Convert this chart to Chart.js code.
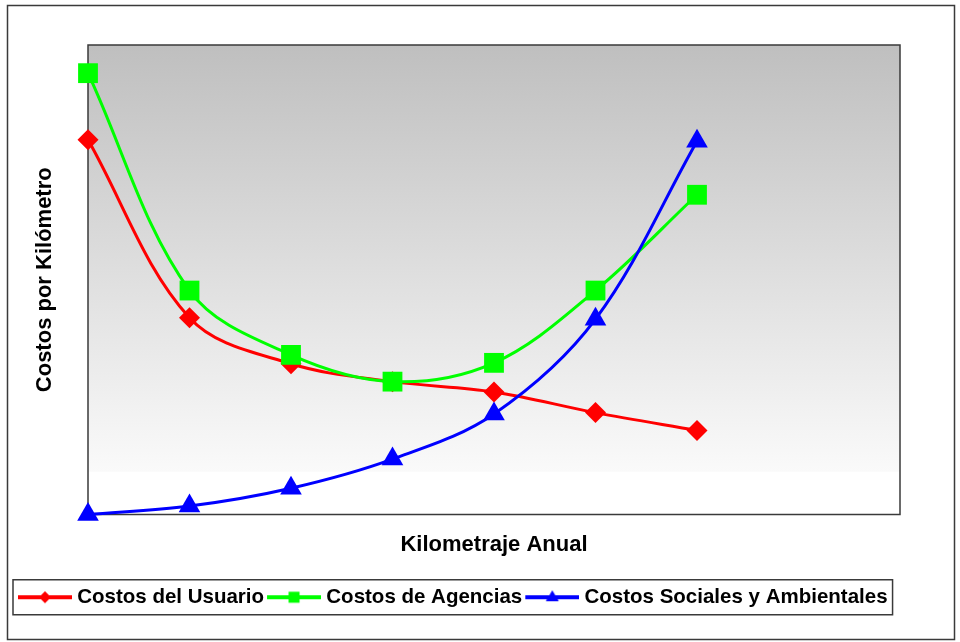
<!DOCTYPE html>
<html>
<head>
<meta charset="utf-8">
<script src="https://cdn.jsdelivr.net/npm/chart.js@4/dist/chart.umd.min.js"></script>
<style>
  html, body { margin: 0; padding: 0; background: #fff; }
  #wrap { width: 960px; height: 642px; position: relative; }
</style>
</head>
<body>
<div id="wrap"><canvas id="chart"></canvas></div>
<script>
// x positions (no tick labels shown in the original)
const kmLabels = ['1', '2', '3', '4', '5', '6', '7', '8', '9'];

// values, y scale 0..100
const usuario = [79.8, 41.9, 32.1, 28.3, 26.1, 21.7, 17.9];
const agencias = [94.0, 47.7, 34.0, 28.3, 32.3, 47.7, 68.1];
const sociales = [0, 1.8, 5.6, 11.8, 21.4, 41.6, 79.5];

const seriesNames = ['Costos del Usuario', 'Costos de Agencias', 'Costos Sociales y Ambientales'];
const seriesColors = ['#ff0000', '#00ff00', '#0000ff'];
const seriesStyles = ['rectRot', 'rect', 'triangle'];

// little line + marker picture for the legend
function legendSample(color, style) {
  const c = document.createElement('canvas');
  c.width = 60;
  c.height = 20;
  const g = c.getContext('2d');
  g.strokeStyle = color;
  g.fillStyle = color;
  g.lineWidth = 4;
  g.beginPath();
  g.moveTo(6, 10);
  g.lineTo(60, 10);
  g.stroke();
  const cx = 33, cy = 10;
  g.beginPath();
  if (style === 'rectRot') {
    g.moveTo(cx, cy - 6); g.lineTo(cx + 6, cy); g.lineTo(cx, cy + 6); g.lineTo(cx - 6, cy);
  } else if (style === 'rect') {
    g.rect(cx - 5.5, cy - 5.5, 11, 11);
  } else {
    g.moveTo(cx, cy - 7); g.lineTo(cx + 6.5, cy + 4); g.lineTo(cx - 6.5, cy + 4);
  }
  g.closePath();
  g.fill();
  return c;
}

const samples = seriesColors.map((c, i) => legendSample(c, seriesStyles[i]));

const frames = {
  id: 'frames',
  beforeDraw(chart) {
    const {ctx, chartArea: a} = chart;
    ctx.save();
    ctx.fillStyle = '#ffffff';
    ctx.fillRect(0, 0, chart.width, chart.height);
    const fadeEnd = a.top + (a.bottom - a.top) * 0.909;
    const grad = ctx.createLinearGradient(0, a.top, 0, fadeEnd);
    grad.addColorStop(0, '#bfbfbf');
    grad.addColorStop(1, '#fafafa');
    ctx.fillStyle = grad;
    ctx.fillRect(a.left, a.top, a.right - a.left, fadeEnd - a.top);
    // outer border
    ctx.strokeStyle = '#3a3a3a';
    ctx.lineWidth = 1.5;
    ctx.strokeRect(7.5, 5.5, 947, 634);
    ctx.restore();
  },
  beforeDatasetsDraw(chart) {
    const {ctx, chartArea: a} = chart;
    ctx.save();
    ctx.strokeStyle = '#3a3a3a';
    ctx.lineWidth = 1.5;
    ctx.strokeRect(a.left, a.top, a.right - a.left, a.bottom - a.top);
    ctx.restore();
  },
  afterDraw(chart) {
    const boxes = chart.legend.legendHitBoxes;
    if (!boxes || !boxes.length) return;
    const left = Math.min(...boxes.map(b => b.left)) - 4;
    const right = Math.max(...boxes.map(b => b.left + b.width)) + 5;
    const mid = boxes[0].top + boxes[0].height / 2;
    const ctx = chart.ctx;
    ctx.save();
    ctx.strokeStyle = '#3a3a3a';
    ctx.lineWidth = 1.5;
    ctx.strokeRect(left, mid - 17.5, right - left, 35);
    ctx.restore();
  }
};

// order: blue on top, then green, then red
const makeSet = (i, values, radius, order) => ({
  label: seriesNames[i],
  data: values,
  order: order,
  borderColor: seriesColors[i],
  backgroundColor: seriesColors[i],
  borderWidth: 3,
  pointStyle: seriesStyles[i],
  pointRadius: radius,
  pointHoverRadius: radius,
  pointBorderWidth: 0,
  pointBackgroundColor: seriesColors[i],
  tension: 0.35,
  clip: false
});

new Chart(document.getElementById('chart'), {
  type: 'line',
  data: {
    labels: kmLabels,
    datasets: [
      makeSet(0, usuario, 10.5, 3),
      makeSet(1, agencias, 14, 2),
      makeSet(2, sociales, 12.5, 1)
    ]
  },
  options: {
    responsive: true,
    maintainAspectRatio: false,
    animation: false,
    layout: { padding: { left: 15, right: 60, top: 45, bottom: 24.5 } },
    plugins: {
      tooltip: { enabled: false },
      legend: {
        position: 'bottom',
        align: 'start',
        labels: {
          usePointStyle: true,
          pointStyleWidth: 50,
          padding: 2,
          color: '#000',
          font: { family: 'Liberation Sans, Arial, sans-serif', size: 20.5, weight: 'bold' },
          sort: (a, b) => a.datasetIndex - b.datasetIndex,
          generateLabels(chart) {
            const items = Chart.defaults.plugins.legend.labels.generateLabels(chart);
            items.forEach(it => { it.pointStyle = samples[it.datasetIndex]; });
            return items;
          }
        }
      }
    },
    scales: {
      x: {
        offset: false,
        grid: { display: false },
        border: { display: false },
        ticks: { display: false },
        title: {
          display: true,
          text: 'Kilometraje Anual',
          color: '#000',
          padding: { top: 0, bottom: 27.3 },
          font: { family: 'Liberation Sans, Arial, sans-serif', size: 22, weight: 'bold' }
        },
        afterFit(scale) { scale.height = 70.5; }
      },
      y: {
        min: 0,
        max: 100,
        grid: { display: false },
        border: { display: false },
        ticks: { display: false },
        title: {
          display: true,
          text: 'Costos por Kilómetro',
          color: '#000',
          padding: { top: 17, bottom: 0 },
          font: { family: 'Liberation Sans, Arial, sans-serif', size: 22, weight: 'bold' }
        },
        afterFit(scale) { scale.width = 73; }
      }
    }
  },
  plugins: [frames]
});
</script>
</body>
</html>
